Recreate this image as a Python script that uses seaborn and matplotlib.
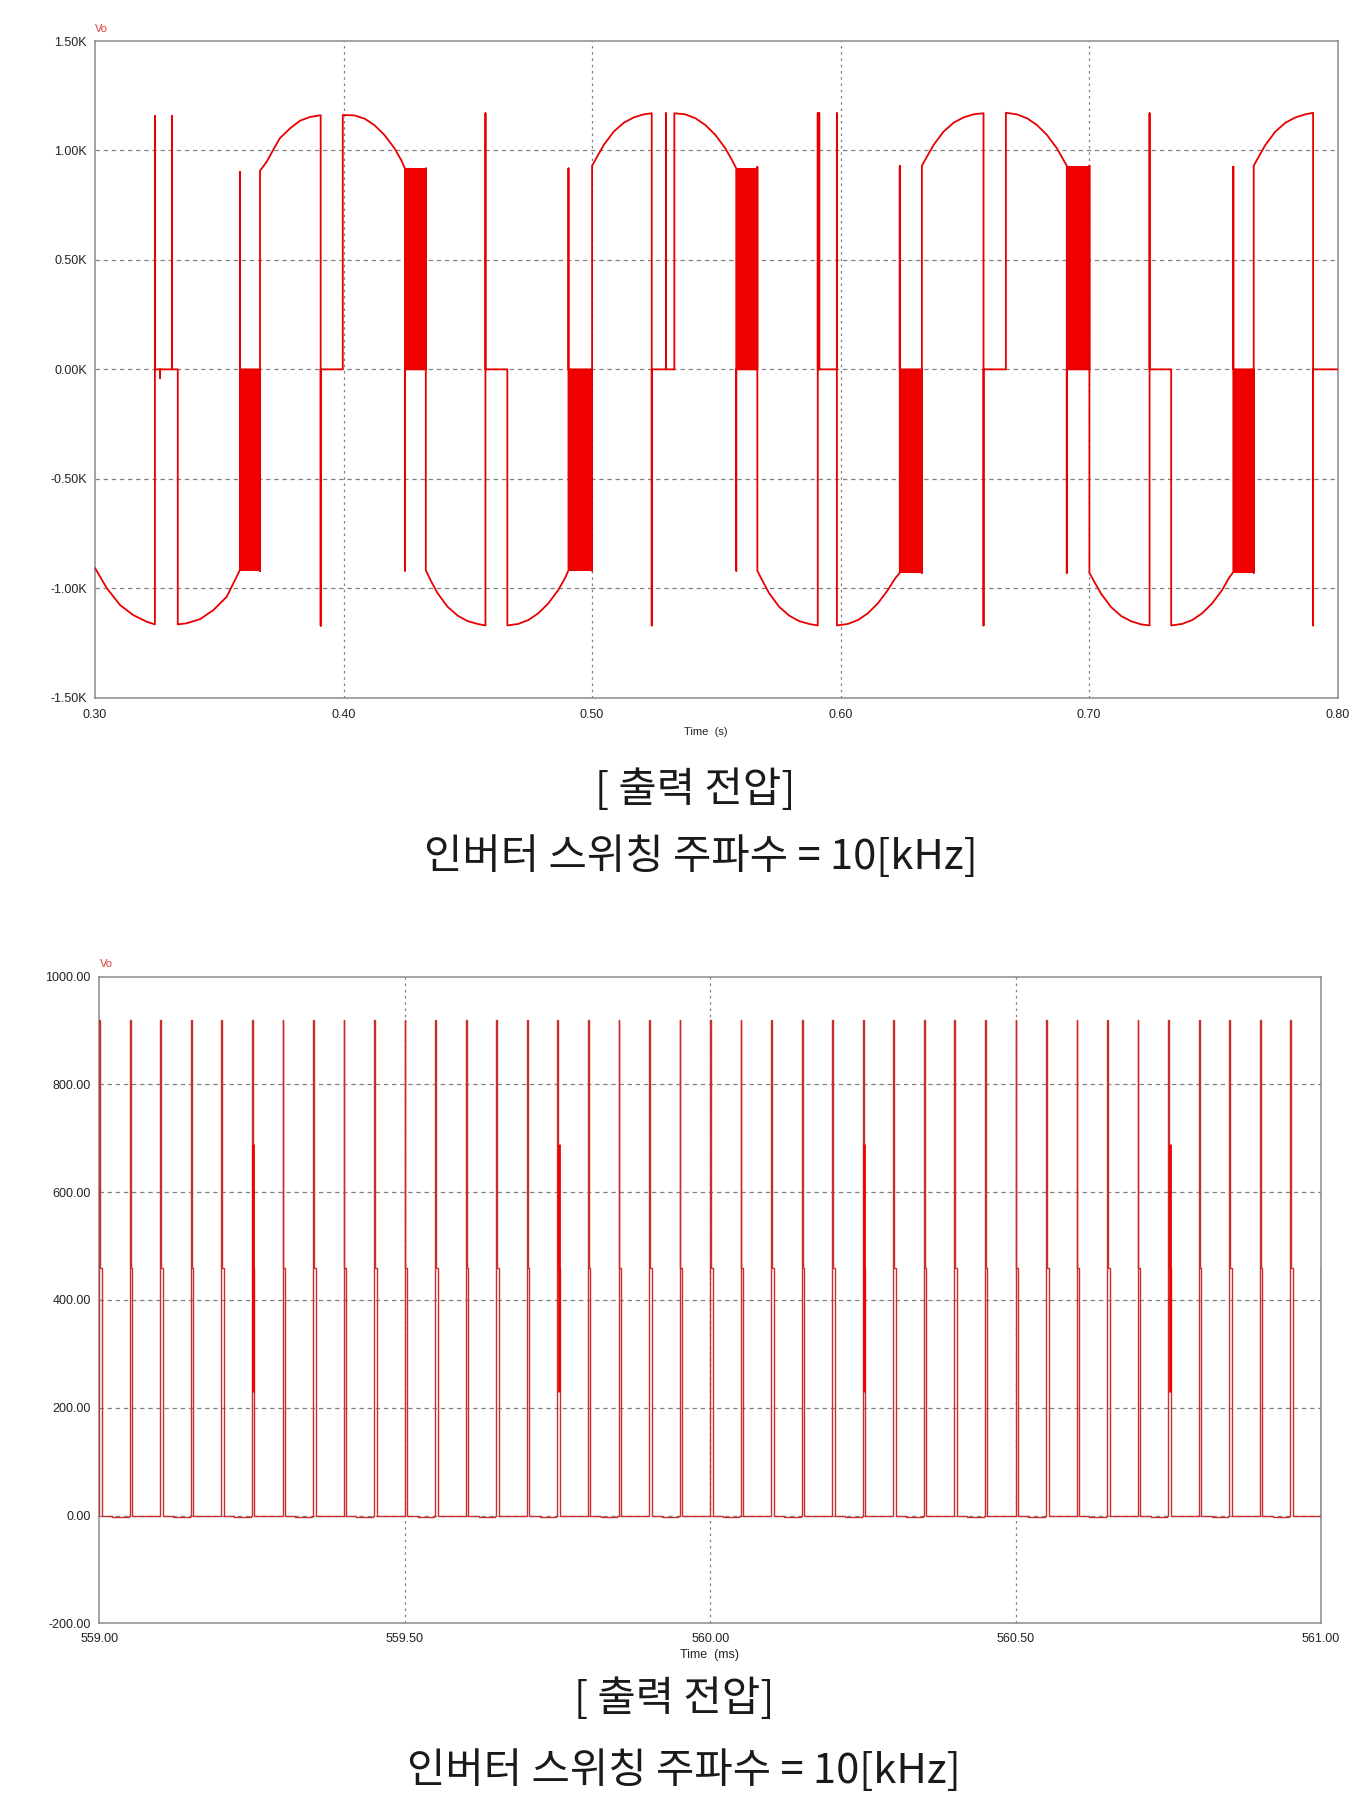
import numpy as np
import pandas as pd
import matplotlib
matplotlib.use("Agg")
import matplotlib.pyplot as plt
import seaborn as sns

# ------------------------------------------------------------------
# Top chart: inverter output voltage Vo (time in s, volts)
# polyline breakpoints
# ------------------------------------------------------------------
wave1_t = [
    0.3000, 0.3047, 0.3101, 0.3153, 0.3208, 0.3241,
    0.3241, 0.3241, 0.3262, 0.3262, 0.3262, 0.3310, 0.3310, 0.3310, 0.3333,
    0.3333, 0.3369, 0.3423, 0.3476, 0.3530, 0.3583,
    0.3583, 0.3583, 0.3664, 0.3664,
    0.3664, 0.3691, 0.3724, 0.3744, 0.3785, 0.3825, 0.3865, 0.3908,
    0.3908, 0.3908, 0.3997,
    0.3997, 0.4044, 0.4085, 0.4125, 0.4165, 0.4205, 0.4232, 0.4247,
    0.4247, 0.4247, 0.4331, 0.4331,
    0.4331, 0.4351, 0.4378, 0.4418, 0.4459, 0.4499, 0.4539, 0.4571,
    0.4571, 0.4571, 0.4659,
    0.4659, 0.4703, 0.4744, 0.4784, 0.4824, 0.4864, 0.4891, 0.4905,
    0.4905, 0.4905, 0.5000, 0.5000,
    0.5000, 0.5020, 0.5047, 0.5087, 0.5128, 0.5168, 0.5208, 0.5240,
    0.5240, 0.5240, 0.5297, 0.5297, 0.5297, 0.5331,
    0.5331, 0.5375, 0.5416, 0.5456, 0.5496, 0.5536, 0.5563, 0.5580,
    0.5580, 0.5580, 0.5665, 0.5665,
    0.5665, 0.5685, 0.5712, 0.5752, 0.5793, 0.5833, 0.5873, 0.5908,
    0.5908, 0.5908, 0.5914, 0.5914, 0.5914, 0.5985, 0.5985,
    0.5985, 0.6029, 0.6070, 0.6110, 0.6150, 0.6190, 0.6220, 0.6238,
    0.6238, 0.6238, 0.6327, 0.6327,
    0.6327, 0.6347, 0.6374, 0.6414, 0.6455, 0.6495, 0.6535, 0.6575,
    0.6575, 0.6575, 0.6665,
    0.6665, 0.6709, 0.6750, 0.6790, 0.6830, 0.6870, 0.6897, 0.6910,
    0.6910, 0.6910, 0.7001, 0.7001,
    0.7001, 0.7021, 0.7048, 0.7088, 0.7129, 0.7169, 0.7209, 0.7243,
    0.7243, 0.7243, 0.7330,
    0.7330, 0.7374, 0.7415, 0.7455, 0.7495, 0.7535, 0.7562, 0.7580,
    0.7580, 0.7580, 0.7662, 0.7662,
    0.7662, 0.7682, 0.7709, 0.7749, 0.7790, 0.7830, 0.7870, 0.7901,
    0.7901, 0.7901, 0.8000,
]
wave1_v = [
    -907, -999, -1077, -1122, -1153, -1165,
    1157, 0, 0, -40, 0, 0, 1157, 0, 0,
    -1165, -1160, -1141, -1100, -1039, -917,
    902, 0, 0, -922,
    907, 949, 1017, 1056, 1101, 1136, 1153, 1161,
    -1171, 0, 0,
    1162, 1160, 1145, 1115, 1070, 1010, 956, 918,
    -920, 0, 0, 918,
    -918, -965, -1022, -1084, -1125, -1150, -1163, -1170,
    1170, 0, 0,
    -1170, -1163, -1145, -1114, -1069, -1008, -954, -918,
    918, 0, 0, -920,
    930, 971, 1025, 1086, 1127, 1151, 1165, 1170,
    -1170, 0, 0, 1170, 0, 0,
    1170, 1165, 1147, 1116, 1071, 1010, 956, 918,
    -920, 0, 0, 925,
    -920, -965, -1022, -1084, -1125, -1150, -1163, -1170,
    1170, 0, 0, 1170, 0, 0, 1170,
    -1170, -1163, -1145, -1114, -1069, -1008, -954, -930,
    930, 0, 0, -930,
    930, 971, 1025, 1086, 1127, 1151, 1165, 1170,
    -1170, 0, 0,
    1172, 1165, 1147, 1116, 1071, 1010, 956, 930,
    -930, 0, 0, 930,
    -930, -971, -1025, -1086, -1127, -1151, -1165, -1170,
    1170, 0, 0,
    -1170, -1163, -1145, -1114, -1069, -1008, -954, -926,
    926, 0, 0, -930,
    930, 971, 1025, 1086, 1127, 1151, 1165, 1172,
    -1170, 0, 0,
]
# dense PWM switching blocks (filled between 0 and level)
block_start = [0.3583, 0.4247, 0.4905, 0.5580, 0.6238, 0.6910, 0.7580]
block_end = [0.3664, 0.4331, 0.5000, 0.5665, 0.6327, 0.7001, 0.7662]
block_level = [-920, 918, -920, 922, -930, 930, -930]

top_xticks = [0.30, 0.40, 0.50, 0.60, 0.70, 0.80]
top_xticklabels = ["0.30", "0.40", "0.50", "0.60", "0.70", "0.80"]
top_yticks = [1500, 1000, 500, 0, -500, -1000, -1500]
top_yticklabels = ["1.50K", "1.00K", "0.50K", "0.00K", "-0.50K", "-1.00K", "-1.50K"]

# ------------------------------------------------------------------
# Bottom chart: zoomed output voltage (time in ms)
# ------------------------------------------------------------------
pulse_t = [559.00, 559.05, 559.10, 559.15, 559.20, 559.25, 559.30, 559.35,
           559.40, 559.45, 559.50, 559.55, 559.60, 559.65, 559.70, 559.75,
           559.80, 559.85, 559.90, 559.95, 560.00, 560.05, 560.10, 560.15,
           560.20, 560.25, 560.30, 560.35, 560.40, 560.45, 560.50, 560.55,
           560.60, 560.65, 560.70, 560.75, 560.80, 560.85, 560.90, 560.95,
           561.00]
pulse_peak = [920, 920, 920, 920, 920, 920, 920, 920, 920, 920, 920, 920,
              920, 920, 920, 920, 920, 920, 920, 920, 920, 920, 920, 920,
              920, 920, 920, 920, 920, 920, 920, 920, 920, 920, 920, 920,
              920, 920, 920, 920, 460]
pulse_step = [460] * 41
dip_before = [559.05, 559.15, 559.25, 559.35, 559.45, 559.55, 559.65, 559.75,
              559.85, 559.95, 560.05, 560.15, 560.25, 560.35, 560.45, 560.55,
              560.65, 560.75, 560.85, 560.95]
dip_level = -3
special_t = [559.25, 559.75, 560.25, 560.75]
special_lo = [230, 230, 230, 230]
special_hi = [690, 690, 690, 690]

bot_xticks = [559.00, 559.50, 560.00, 560.50, 561.00]
bot_xticklabels = ["559.00", "559.50", "560.00", "560.50", "561.00"]
bot_yticks = [1000, 800, 600, 400, 200, 0, -200]
bot_yticklabels = ["1000.00", "800.00", "600.00", "400.00", "200.00", "0.00", "-200.00"]

caption1 = "[ 출력 전압]"
caption2 = "인버터 스위칭 주파수 = 10[kHz]"

# ------------------------------------------------------------------
sns.set_theme(style="white")
plt.rcParams["font.family"] = ["Liberation Sans", "DejaVu Sans"]

W, H = 1359, 1804
fig = plt.figure(figsize=(W / 100, H / 100), dpi=100)
fig.patch.set_facecolor("white")


def fx(px):
    return px / W


def fy(py):
    return 1 - py / H


ax1 = fig.add_axes([fx(95), fy(697.7), fx(1337.7) - fx(95), fy(41) - fy(697.7)])
ax2 = fig.add_axes([fx(99.3), fy(1623.3), fx(1321) - fx(99.3), fy(976.7) - fy(1623.3)])

RED = "#f00000"
GRID = "#808080"


def style_axes(ax, xt, xtl, yt, ytl, xpad, ypad):
    ax.set_xticks(xt)
    ax.set_xticklabels(xtl)
    ax.set_yticks(yt)
    ax.set_yticklabels(ytl)
    ax.tick_params(axis="both", length=0, labelsize=9, labelcolor="#222222")
    ax.tick_params(axis="x", pad=xpad)
    ax.tick_params(axis="y", pad=ypad)
    for s in ax.spines.values():
        s.set_color("#8a8a8a")
        s.set_linewidth(1.1)
    ax.set_facecolor("white")
    ax.set_xlabel("")
    ax.set_ylabel("")


# ---- top chart ----
df1 = pd.DataFrame({"t": wave1_t, "v": wave1_v})
for y in top_yticks[1:-1]:
    ax1.axhline(y, color=GRID, lw=0.9, ls=(0, (3.5, 3)), zorder=1)
for x in top_xticks[1:-1]:
    ax1.axvline(x, color=GRID, lw=0.9, ls=(0, (2, 3)), zorder=1)
for s, e, lv in zip(block_start, block_end, block_level):
    ax1.fill_between([s, e], [0, 0], [lv, lv], color=RED, lw=0, zorder=3)
sns.lineplot(data=df1, x="t", y="v", sort=False, estimator=None, ax=ax1,
             color="#e80000", lw=1.3, zorder=4)
ax1.set_xlim(0.30, 0.80)
ax1.set_ylim(-1500, 1500)
style_axes(ax1, top_xticks, top_xticklabels, top_yticks, top_yticklabels, 8, 5.8)

# ---- bottom chart ----
bt, bv = [559.0], [0]
for t, pk, st in zip(pulse_t, pulse_peak, pulse_step):
    if any(abs(t - d) < 1e-6 for d in dip_before):
        bt += [t - 0.029, t - 0.029, t - 0.002, t - 0.002]
        bv += [0, dip_level, dip_level, 0]
    bt += [t, t, t + 0.0012, t + 0.0012, t + 0.004, t + 0.004]
    bv += [0, pk, pk, st, st, 0]
bt.append(561.0)
bv.append(0)
df2 = pd.DataFrame({"t": bt, "v": bv})
for y in bot_yticks[1:-1]:
    ax2.axhline(y, color=GRID, lw=0.9, ls=(0, (3.5, 3)), zorder=1)
for x in bot_xticks[1:-1]:
    ax2.axvline(x, color=GRID, lw=0.9, ls=(0, (2, 3)), zorder=1)
sns.lineplot(data=df2, x="t", y="v", sort=False, estimator=None, ax=ax2,
             color="#c83030", lw=1.0, zorder=4)
ax2.vlines([t + 0.002 for t in special_t], special_lo, special_hi,
           color=RED, lw=2.0, zorder=5)
ax2.set_xlim(559.0, 561.0)
ax2.set_ylim(-200, 1000)
style_axes(ax2, bot_xticks, bot_xticklabels, bot_yticks, bot_yticklabels, 7, 6.2)

# ---- small labels ----
fig.text(fx(95), fy(29), "Vo", color="#e03c3c", fontsize=8, ha="left", va="center")
fig.text(fx(100), fy(964), "Vo", color="#e03c3c", fontsize=8, ha="left", va="center")
fig.text(fx(706), fy(732), "Time  (s)", color="#222222", fontsize=8, ha="center", va="center")
fig.text(fx(710), fy(1655), "Time  (ms)", color="#222222", fontsize=9, ha="center", va="center")

# ---- captions ----
cfam = ["Noto Sans CJK KR", "DejaVu Sans"]
cap = dict(fontsize=30, ha="center", va="center", family=cfam, color="#1a1a1a",
           fontweight="light")
fig.text(fx(695), fy(790), caption1, **cap)
fig.text(fx(701), fy(857), caption2, **cap)
fig.text(fx(674), fy(1699), caption1, **cap)
fig.text(fx(684), fy(1771), caption2, **cap)

fig.savefig("out.png", dpi=100, facecolor="white")
